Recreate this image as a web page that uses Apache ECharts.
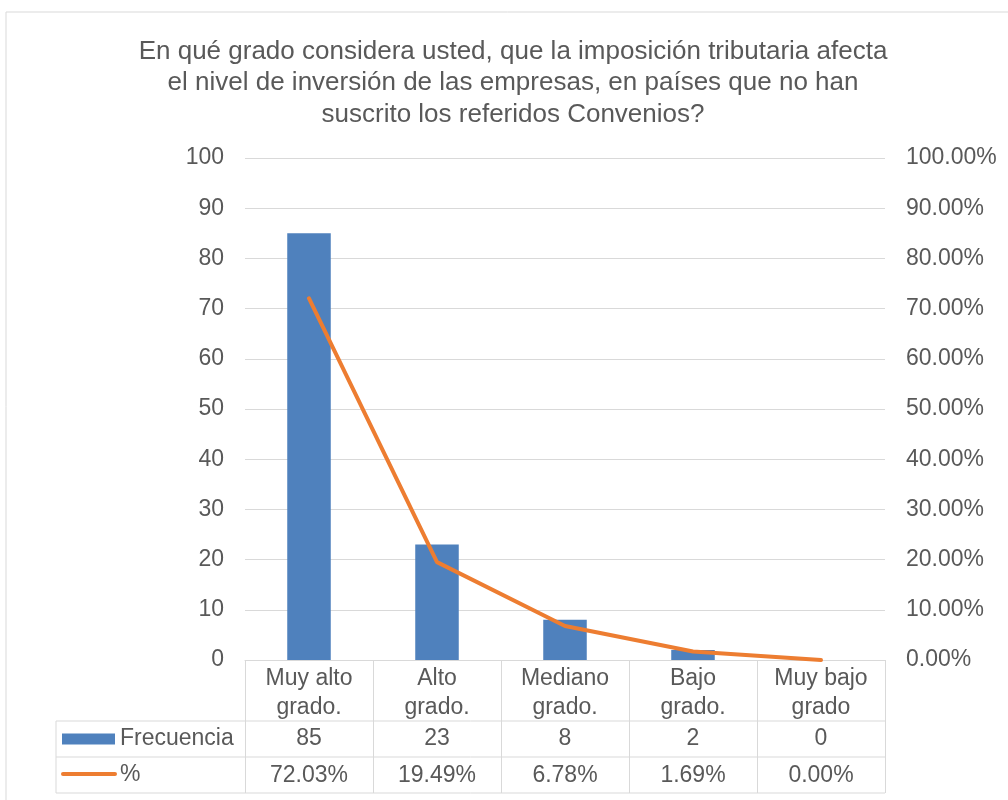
<!DOCTYPE html>
<html>
<head>
<meta charset="utf-8">
<script src="https://cdn.jsdelivr.net/npm/echarts@6/dist/echarts.min.js"></script>
<style>
html,body{margin:0;padding:0;background:#fff;}
#c{width:1008px;height:800px;}
</style>
</head>
<body>
<div id="c"></div>
<script>
const titleText = 'En qué grado considera usted, que la imposición tributaria afecta\nel nivel de inversión de las empresas, en países que no han\nsuscrito los referidos Convenios?';
const categories = ['Muy alto\ngrado.', 'Alto\ngrado.', 'Mediano\ngrado.', 'Bajo\ngrado.', 'Muy bajo\ngrado'];
const seriesNames = ['Frecuencia', '%'];
const frecuencia = [85, 23, 8, 2, 0];
const porcentaje = [0.7203, 0.1949, 0.0678, 0.0169, 0.0];
const leftTicks = { min: 0, max: 100, interval: 10 };
const rightTicks = { min: 0, max: 1, interval: 0.1 };

const FONT = "'Liberation Sans', Arial, sans-serif";
const TXT = '#595959';
const LINE = '#d9d9d9';
const BLUE = '#4F81BD';
const ORANGE = '#ED7D31';
const FS = 23;
const TFS = 26;

// layout
const G = { left: 245, right: 885, top: 158, bottom: 660 };
const tableLeft = 56;
const rowLines = [721, 757, 793];

const chart = echarts.init(document.getElementById('c'), null, { renderer: 'canvas' });

const hline = (x1, x2, y) => ({ type: 'line', shape: { x1, y1: y, x2, y2: y }, style: { stroke: LINE, lineWidth: 1 }, silent: true });
const vline = (x, y1, y2) => ({ type: 'line', shape: { x1: x, y1, x2: x, y2 }, style: { stroke: LINE, lineWidth: 1 }, silent: true });

const row1Mid = (rowLines[0] + rowLines[1]) / 2;
const row2Mid = (rowLines[1] + rowLines[2]) / 2;

const tableLabel = { color: TXT, fontSize: FS, fontFamily: FONT, lineHeight: 29, margin: 4, interval: 0, verticalAlign: 'top' };

const option = {
  backgroundColor: '#fff',
  animation: false,
  textStyle: { fontFamily: FONT },
  title: {
    text: titleText,
    left: 513,
    textAlign: 'center',
    top: 36,
    padding: 0,
    textStyle: { fontFamily: FONT, fontSize: TFS, fontWeight: 'normal', color: TXT, lineHeight: 31.5 }
  },
  grid: { left: G.left, right: 1008 - G.right, top: G.top, bottom: 800 - G.bottom, containLabel: false },
  xAxis: [
    {
      type: 'category', data: categories, position: 'bottom',
      axisLine: { show: true, lineStyle: { color: LINE, width: 1 } },
      axisTick: { show: true, length: rowLines[2] - G.bottom, lineStyle: { color: LINE, width: 1 }, interval: 0 },
      axisLabel: tableLabel
    },
    {
      type: 'category', data: frecuencia.map(v => String(v)), position: 'bottom', offset: 60,
      axisLine: { show: false }, axisTick: { show: false },
      axisLabel: tableLabel
    },
    {
      type: 'category', data: porcentaje.map(v => (v * 100).toFixed(2) + '%'), position: 'bottom', offset: 97,
      axisLine: { show: false }, axisTick: { show: false },
      axisLabel: tableLabel
    }
  ],
  yAxis: [
    {
      type: 'value', min: leftTicks.min, max: leftTicks.max, interval: leftTicks.interval,
      axisLine: { show: false }, axisTick: { show: false },
      splitLine: { show: true, lineStyle: { color: LINE, width: 1 } },
      axisLabel: { color: TXT, fontSize: FS, fontFamily: FONT, margin: 21 }
    },
    {
      type: 'value', min: rightTicks.min, max: rightTicks.max, interval: rightTicks.interval,
      axisLine: { show: false }, axisTick: { show: false },
      splitLine: { show: false },
      axisLabel: { color: TXT, fontSize: FS, fontFamily: FONT, margin: 21, formatter: v => (v * 100).toFixed(2) + '%' }
    }
  ],
  series: [
    {
      name: seriesNames[0], type: 'bar', data: frecuencia, xAxisIndex: 0, yAxisIndex: 0,
      barWidth: '34%', itemStyle: { color: BLUE }
    },
    {
      name: seriesNames[1], type: 'line', data: porcentaje, xAxisIndex: 0, yAxisIndex: 1,
      showSymbol: false, symbol: 'none', lineStyle: { color: ORANGE, width: 4, cap: 'round', join: 'round' }, itemStyle: { color: ORANGE }
    }
  ],
  graphic: [
    // outer chart border
    { type: 'rect', shape: { x: 6, y: 12, width: 1010, height: 800 }, style: { fill: null, stroke: LINE, lineWidth: 1 }, silent: true, z: -10 },
    // table lines
    hline(tableLeft, G.right, rowLines[0]),
    hline(tableLeft, G.right, rowLines[1]),
    hline(tableLeft, G.right, rowLines[2]),
    vline(tableLeft, rowLines[0], rowLines[2]),
    // legend keys
    { type: 'rect', shape: { x: 62, y: row1Mid - 5.5, width: 53, height: 11 }, style: { fill: BLUE }, silent: true },
    { type: 'text', x: 120, y: row1Mid, style: { text: seriesNames[0], fill: TXT, font: FS + 'px ' + FONT, verticalAlign: 'middle', align: 'left' }, silent: true },
    { type: 'line', shape: { x1: 63, y1: row2Mid - 1, x2: 115, y2: row2Mid - 1 }, style: { stroke: ORANGE, lineWidth: 4, lineCap: 'round' }, silent: true },
    { type: 'text', x: 120, y: row2Mid, style: { text: seriesNames[1], fill: TXT, font: FS + 'px ' + FONT, verticalAlign: 'middle', align: 'left' }, silent: true }
  ]
};
chart.setOption(option);
</script>
</body>
</html>
